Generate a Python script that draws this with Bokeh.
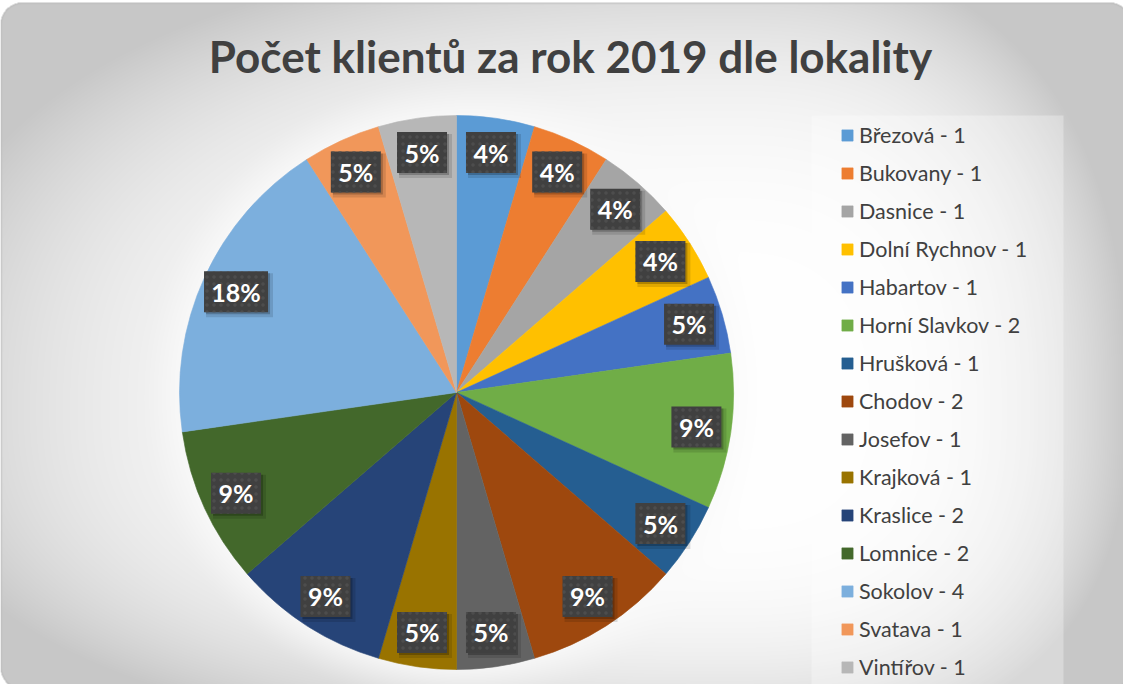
import numpy as np
from bokeh.plotting import figure
from bokeh.models import ColumnDataSource, Range1d, Label
from bokeh.core.properties import value
from bokeh.embed import file_html
from bokeh.resources import INLINE

# ---------------- data ----------------
names = ["Březová", "Bukovany", "Dasnice", "Dolní Rychnov", "Habartov",
         "Horní Slavkov", "Hrušková", "Chodov", "Josefov", "Krajková",
         "Kraslice", "Lomnice", "Sokolov", "Svatava", "Vintířov"]
counts = [1, 1, 1, 1, 1, 2, 1, 2, 1, 1, 2, 2, 4, 1, 1]
pct_labels = ["4%", "4%", "4%", "4%", "5%", "9%", "5%", "9%", "5%", "5%",
              "9%", "9%", "18%", "5%", "5%"]
colors = ["#5B9BD5", "#ED7D31", "#A5A5A5", "#FFC000", "#4472C4",
          "#70AD47", "#255E91", "#9E480E", "#636363", "#997300",
          "#264478", "#43682B", "#7CAFDD", "#F1975A", "#B7B7B7"]
title_text = "Počet klientů za rok 2019 dle lokality"

# ---------------- layout (screen px; data y = -screen y) ----------------
W, H = 1123, 684
XL, YT = 8, 8
CX, CY, R = 464, 400, 277
LABEL_R = 0.875 * R
FONT = "Lato"

# ---------------- background image ----------------
xs = np.arange(XL, XL + W) + 0.5
ys = np.arange(YT, YT + H) + 0.5
SX, SY = np.meshgrid(xs, ys)
gcx, gcy = 740.0, 420.0
nx = np.where(SX < gcx, (gcx - SX) / (gcx - 8), (SX - gcx) / 350.0)
ny = np.where(SY < gcy, (gcy - SY) / (gcy - 10), (SY - gcy) / 300.0)
d = (nx ** 2.5 + ny ** 2.5) ** 0.4
g = 255.0 - np.minimum(35.0 * d ** 3.8, 56.0)
rr = np.hypot(SX - CX, SY - CY)
t = np.clip((rr - R) / 40.0, 0, 1)
w = np.where(rr >= R, (1 - t) ** 1.5, 0.0) * 0.75
g = g + (250.0 - g) * w
# rounded frame
fl, ft, fr, fb, rad = 8.0, 10.0, 1139.0, 697.0, 22.0
ccx, ccy = (fl + fr) / 2, (ft + fb) / 2
hx, hy = (fr - fl) / 2, (fb - ft) / 2
qx = np.abs(SX - ccx) - (hx - rad)
qy = np.abs(SY - ccy) - (hy - rad)
sd = np.hypot(np.maximum(qx, 0), np.maximum(qy, 0)) + np.minimum(np.maximum(qx, qy), 0) - rad
border = np.clip(1 - np.abs(sd + 0.8) / 1.0, 0, 1)
g = np.where(sd > 0, 255.0, g)
g = g * (1 - border) + 188.0 * border
g = np.clip(g, 0, 255).astype(np.uint8)[::-1]
img = np.empty((H, W), dtype=np.uint32)
view = img.view(dtype=np.uint8).reshape((H, W, 4))
view[..., 0] = g
view[..., 1] = g
view[..., 2] = g
view[..., 3] = 255

# ---------------- figure ----------------
p = figure(width=W, height=H, x_range=Range1d(XL, XL + W), y_range=Range1d(-(YT + H), -YT),
           output_backend="svg", toolbar_location=None, min_border=0,
           x_axis_type=None, y_axis_type=None)
p.grid.visible = False
p.outline_line_color = None
p.background_fill_color = "white"
p.border_fill_color = "white"

p.image_rgba(image=[img], x=XL, y=-(YT + H), dw=W, dh=H)

# legend background panel
p.quad(left=819, right=1071, top=-123, bottom=-694, fill_color="white",
       fill_alpha=0.3, line_color=None)

# ---------------- pie ----------------
total = float(sum(counts))
cum = np.concatenate([[0], np.cumsum(counts)]) / total
start = np.pi / 2 - 2 * np.pi * cum[:-1]
end = np.pi / 2 - 2 * np.pi * cum[1:]
mid = (start + end) / 2
src = ColumnDataSource(dict(
    start=start, end=end, color=colors,
    legend=[f"{n} - {c}" for n, c in zip(names, counts)],
))
p.wedge(x=CX, y=-CY, radius=R, start_angle="start", end_angle="end",
        direction="clock", fill_color="color", line_color="color",
        line_width=0.6, legend_field="legend", source=src)

# ---------------- data labels ----------------
lx = CX + LABEL_R * np.cos(mid)
ly = -CY + LABEL_R * np.sin(mid)
bw = [22 + 14 * len(s) for s in pct_labels]
lab = ColumnDataSource(dict(x=lx, y=ly, sx1=lx + 3.5, sy1=ly - 3.5, sx2=lx + 2, sy2=ly - 2,
                            w=bw, w1=[b + 3 for b in bw], text=pct_labels))
p.rect(x="sx1", y="sy1", width="w1", height=44, fill_color="black", fill_alpha=0.12,
       line_color=None, source=lab)
p.rect(x="sx2", y="sy2", width="w", height=41, fill_color="black", fill_alpha=0.22,
       line_color=None, source=lab)
p.rect(x="x", y="y", width="w", height=41, fill_color="#404040", line_color=None,
       hatch_pattern="dot", hatch_color="#4d4d4d", hatch_scale=7, hatch_weight=0.7,
       source=lab)
p.text(x="x", y="y", text="text", text_font=value(FONT), text_font_style="bold",
       text_font_size="25px", text_color="white", text_align="center",
       text_baseline="middle", source=lab)

# ---------------- title ----------------
p.add_layout(Label(x=578, y=-63, text=title_text, text_font=FONT, text_font_style="bold",
                   text_font_size="44px", text_color="#404040", text_align="center",
                   text_baseline="middle"))

# ---------------- legend ----------------
lg = p.legend[0]
lg.location = (840, 4)
lg.glyph_width = 14
lg.glyph_height = 14
lg.label_text_font = FONT
lg.label_text_font_size = "21.5px"
lg.label_text_color = "#404040"
lg.label_standoff = 5
lg.spacing = 12
lg.label_height = 26
lg.padding = 0
lg.margin = 0
lg.background_fill_alpha = 0
lg.border_line_alpha = 0
lg.label_text_baseline = "middle"

open("out.html", "w").write(file_html(p, INLINE))
